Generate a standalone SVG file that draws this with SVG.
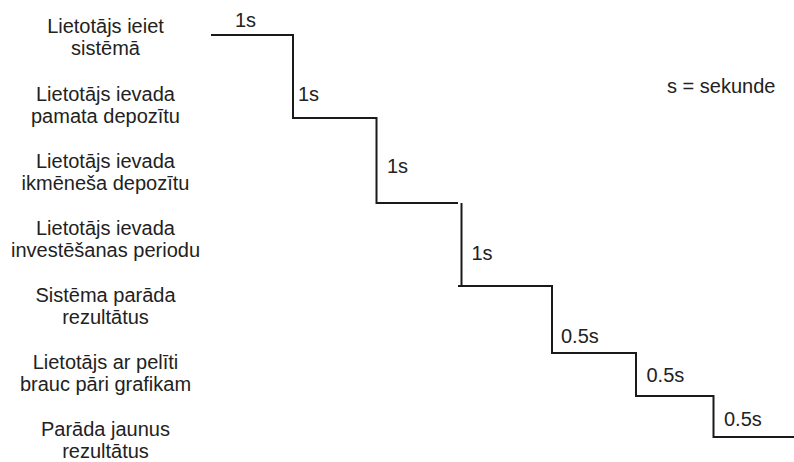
<svg xmlns="http://www.w3.org/2000/svg" width="794" height="462" viewBox="0 0 794 462">
<style>
text{font-family:"Liberation Sans",Arial,sans-serif;font-size:20px;fill:#222222}
.c{text-anchor:middle}
.step{fill:none;stroke:#1a1a1a;stroke-width:2;stroke-linecap:butt;stroke-linejoin:miter}
</style>
<rect width="794" height="462" fill="#ffffff"/>
<g id="label1"><text class="c" x="105.5" y="33">Lietotājs ieiet</text><text class="c" x="105.5" y="55">sistēmā</text></g>
<g id="label2"><text class="c" x="105.5" y="100.5">Lietotājs ievada</text><text class="c" x="105.5" y="122.5">pamata depozītu</text></g>
<g id="label3"><text class="c" x="105.5" y="167.5">Lietotājs ievada</text><text class="c" x="105.5" y="189.5">ikmēneša depozītu</text></g>
<g id="label4"><text class="c" x="105.5" y="234.5">Lietotājs ievada</text><text class="c" x="105.5" y="256.5">investēšanas periodu</text></g>
<g id="label5"><text class="c" x="105.5" y="301.5">Sistēma parāda</text><text class="c" x="105.5" y="323.5">rezultātus</text></g>
<g id="label6"><text class="c" x="105.5" y="369">Lietotājs ar pelīti</text><text class="c" x="105.5" y="391">brauc pāri grafikam</text></g>
<g id="label7"><text class="c" x="105.5" y="435.5">Parāda jaunus</text><text class="c" x="105.5" y="457.5">rezultātus</text></g>
<g id="legend"><text x="667" y="93">s = sekunde</text></g>
<g id="connectors">
<path class="step" d="M211,35 H293 V118 H376.5 V203 H458"/>
<path class="step" d="M461.5,203 V286 H552 V353 H636 V396 H713.5 V437 H794"/>
<path class="step" d="M458,286 H462"/>
</g>
<g id="times">
<text x="235" y="27">1s</text>
<text x="298" y="101">1s</text>
<text x="387" y="173">1s</text>
<text x="471.5" y="259.5">1s</text>
<text x="561" y="343">0.5s</text>
<text x="646.5" y="382">0.5s</text>
<text x="724" y="426">0.5s</text>
</g>
</svg>
